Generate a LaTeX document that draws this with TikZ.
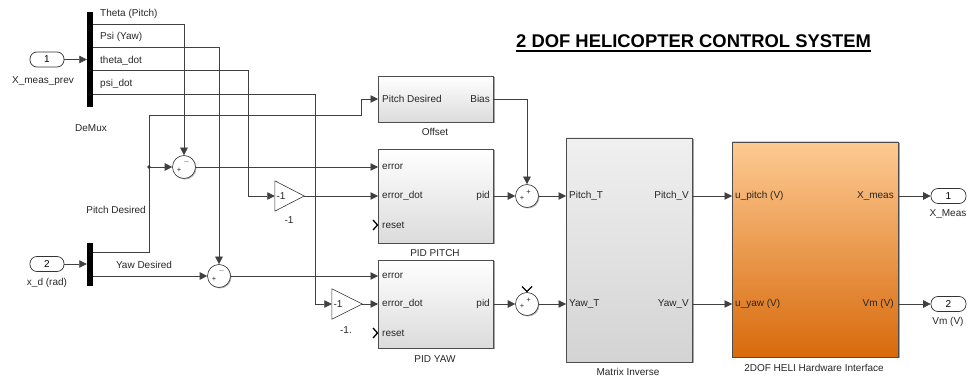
\documentclass[tikz,border=0pt]{standalone}
\usepackage{fontspec}
\setmainfont{Liberation Sans}
\usetikzlibrary{arrows.meta,shadows,calc}
\definecolor{orgtop}{RGB}{253,202,146}
\definecolor{orgmid}{RGB}{245,160,85}
\definecolor{orgbot}{RGB}{216,106,12}
\begin{document}
\begin{tikzpicture}[x=1pt,y=-1pt, font=\fontsize{10}{12}\selectfont,
  wire/.style={draw=black!75, line width=0.6pt},
  arr/.style={wire, -{Triangle[length=7.5pt,width=7.5pt]}},
  shad/.style={drop shadow={shadow xshift=1.5pt, shadow yshift=-1.5pt, fill=black, opacity=0.35}},
  blk/.style={draw=black!70, line width=0.7pt, inner sep=0pt, top color=white, bottom color=black!14, shad},
  sumb/.style={circle, draw=black!80, line width=0.6pt, fill=white, minimum size=23pt, inner sep=0pt, drop shadow={shadow xshift=1pt, shadow yshift=-1pt, fill=black, opacity=0.3}},
  portb/.style={draw=black!80, line width=0.7pt, rounded corners=7pt, minimum width=34pt, minimum height=15pt, inner sep=0pt, fill=white},
  barb/.style={fill=black, draw=none, minimum width=6pt, inner sep=0pt},
  lbl/.style={inner sep=0pt, text=black!85},
  sgn/.style={inner sep=0pt, font=\fontsize{7.5}{7.5}\selectfont, text=black!85},
  chev/.style={draw=black, line width=1.3pt},
  ]
\useasboundingbox (0,0) rectangle (970,379);

% ---------- title ----------
\node[inner sep=0pt, anchor=base west, font=\fontsize{18.4}{20}\selectfont\bfseries] (title) at (516,48) {2 DOF HELICOPTER CONTROL SYSTEM};
\draw[line width=1.4pt] ([yshift=-3pt]title.base west) -- ([yshift=-3pt]title.base east);

% ---------- inports ----------
\node[portb] (in1) at (47,59.5) {1};
\node[lbl] (in1l) at (43,81) {X\_meas\_prev};
\node[portb] (in2) at (47,264) {2};
\node[lbl] (in2l) at (47,283) {x\_d (rad)};

% ---------- demuxes ----------
\node[barb, minimum height=95pt] (dm1) at (90,59.5) {};
\node[lbl] (dm1l) at (91,128) {DeMux};
\node[barb, minimum height=43pt] (dm2) at (90,264.5) {};

\coordinate (d1a) at (93,24);
\coordinate (d1b) at (93,47);
\coordinate (d1c) at (93,70);
\coordinate (d1d) at (93,94);
\coordinate (d2a) at (93,252);
\coordinate (d2b) at (93,276);

\node[lbl, anchor=west] (la) at (100,14) {Theta (Pitch)};
\node[lbl, anchor=west] (lb) at (100,37) {Psi (Yaw)};
\node[lbl, anchor=west] (lc) at (100,61) {theta\_dot};
\node[lbl, anchor=west] (ld) at (100,84) {psi\_dot};
\node[lbl, anchor=east] (lpd) at (146,210) {Pitch Desired};
\node[lbl] (lyd) at (144,265) {Yaw Desired};

% ---------- sums ----------
\node[sumb] (s1) at (184,167) {};
\node[sgn] at (179,170) {+};
\node[sgn] at (186.5,162) {$-$};
\node[sumb] (s2) at (219,276) {};
\node[sgn] at (214,279) {+};
\node[sgn] at (221.5,271) {$-$};
\node[sumb] (s3) at (527,196) {};
\node[sgn] at (522,198.5) {+};
\node[sgn] at (528.5,192) {+};
\node[sumb] (s4) at (527,304) {};
\node[sgn] at (522,306.5) {+};
\node[sgn] at (528.5,300) {+};
\draw[chev] (522,286.5) -- (527,291.5) -- (532,286.5);

% ---------- gains ----------
\node[inner sep=0pt, minimum width=29pt, minimum height=30pt] (g1) at (289.5,196) {};
\draw[draw=black!80, line width=0.6pt, fill=white] (g1.north west) -- (g1.east) -- (g1.south west) -- cycle;
\node[lbl] at (281,196) {-1};
\node[lbl] (g1l) at (289,220) {-1};
\node[inner sep=0pt, minimum width=30pt, minimum height=30pt] (g2) at (347,304) {};
\draw[draw=black!80, line width=0.6pt, fill=white] (g2.north west) -- (g2.east) -- (g2.south west) -- cycle;
\node[lbl] at (338,304) {-1};
\node[lbl] (g2l) at (346,330) {-1.};

% ---------- Offset ----------
\node[blk, minimum width=115pt, minimum height=46pt] (off) at (435.5,99) {};
\node[lbl, anchor=west] at (382,99) {Pitch Desired};
\node[lbl, anchor=east] at (490,99) {Bias};
\node[lbl] (offl) at (435,132) {Offset};
\coordinate (off-in) at (378,99);
\coordinate (off-o) at (493,99);

% ---------- PID PITCH ----------
\node[blk, minimum width=115pt, minimum height=94pt] (pp) at (435.5,196) {};
\node[lbl, anchor=west] at (382,167) {error};
\node[lbl, anchor=west] at (382,196) {error\_dot};
\node[lbl, anchor=west] at (382,225) {reset};
\node[lbl, anchor=east] at (490,196) {pid};
\node[lbl] (ppl) at (435,253) {PID PITCH};
\draw[chev] (373,220) -- (377.5,225) -- (373,230);
\coordinate (pp-e) at (378,167);
\coordinate (pp-ed) at (378,196);
\coordinate (pp-o) at (493,196);

% ---------- PID YAW ----------
\node[blk, minimum width=115pt, minimum height=88pt] (py) at (435.5,304) {};
\node[lbl, anchor=west] at (382,276) {error};
\node[lbl, anchor=west] at (382,304) {error\_dot};
\node[lbl, anchor=west] at (382,333) {reset};
\node[lbl, anchor=east] at (490,304) {pid};
\node[lbl] (pyl) at (435,359) {PID YAW};
\draw[chev] (373,328) -- (377.5,333) -- (373,338);
\coordinate (py-e) at (378,276);
\coordinate (py-ed) at (378,304);
\coordinate (py-o) at (493,304);

% ---------- Matrix Inverse ----------
\node[draw=black!70, line width=0.7pt, inner sep=0pt, top color=black!6, middle color=white, bottom color=black!17, shad, minimum width=126pt, minimum height=224pt] (mi) at (629,250) {};
\node[lbl, anchor=west] at (569,196) {Pitch\_T};
\node[lbl, anchor=west] at (569,304) {Yaw\_T};
\node[lbl, anchor=east] at (689,196) {Pitch\_V};
\node[lbl, anchor=east] at (689,304) {Yaw\_V};
\node[lbl] (mil) at (628,372) {Matrix Inverse};
\coordinate (mi-pt) at (566,196);
\coordinate (mi-yt) at (566,304);
\coordinate (mi-pv) at (692,196);
\coordinate (mi-yv) at (692,304);

% ---------- HELI ----------
\node[draw=black!70, line width=0.7pt, inner sep=0pt, top color=orgtop, middle color=orgmid, bottom color=orgbot, shad, minimum width=166pt, minimum height=215pt] (heli) at (815,249.5) {};
\node[lbl, anchor=west] at (735,196) {u\_pitch (V)};
\node[lbl, anchor=west] at (735,304) {u\_yaw (V)};
\node[lbl, anchor=east] at (894,196) {X\_meas};
\node[lbl, anchor=east] at (894,304) {Vm (V)};
\node[lbl] (helil) at (814,368) {2DOF HELI Hardware Interface};
\coordinate (h-up) at (732,196);
\coordinate (h-uy) at (732,304);
\coordinate (h-xm) at (898,196);
\coordinate (h-vm) at (898,304);

% ---------- outports ----------
\node[portb, minimum width=35pt] (out1) at (948.5,196) {1};
\node[lbl] (out1l) at (948,214) {X\_Meas};
\node[portb, minimum width=35pt] (out2) at (948.5,304) {2};
\node[lbl] (out2l) at (948,322) {Vm (V)};

% ---------- route corners ----------
\coordinate (c3) at (248,196);
\coordinate (c4) at (315,304);
\coordinate (c5) at (149,115);
\coordinate (c6) at (361,115);
\coordinate (br) at (149,167);

% ---------- wires ----------
\draw[arr] (in1.east) -- (in1.east -| dm1.west);
\draw[arr] (in2.east) -- (in2.east -| dm2.west);
\draw[arr] (d1a) -| (s1.north);
\draw[arr] (d1b) -| (s2.north);
\draw[arr] (d1c) -| (c3) -- (g1.west);
\draw[arr] (d1d) -| (c4) -- (g2.west);
\draw[arr] (d2a) -| (c5) -- (c6) |- (off-in);
\fill[black!80] (br) circle (1.8pt);
\draw[arr] (br) -- (s1.west);
\draw[arr] (d2b) -- (s2.west);
\draw[arr] (s1.east) -- (pp-e);
\draw[arr] (s2.east) -- (py-e);
\draw[arr] (g1.east) -- (pp-ed);
\draw[arr] (g2.east) -- (py-ed);
\draw[arr] (pp-o) -- (s3.west);
\draw[arr] (off-o) -| (s3.north);
\draw[arr] (s3.east) -- (mi-pt);
\draw[arr] (py-o) -- (s4.west);
\draw[arr] (s4.east) -- (mi-yt);
\draw[arr] (mi-pv) -- (h-up);
\draw[arr] (mi-yv) -- (h-uy);
\draw[arr] (h-xm) -- (out1.west);
\draw[arr] (h-vm) -- (out2.west);
\end{tikzpicture}
\end{document}
